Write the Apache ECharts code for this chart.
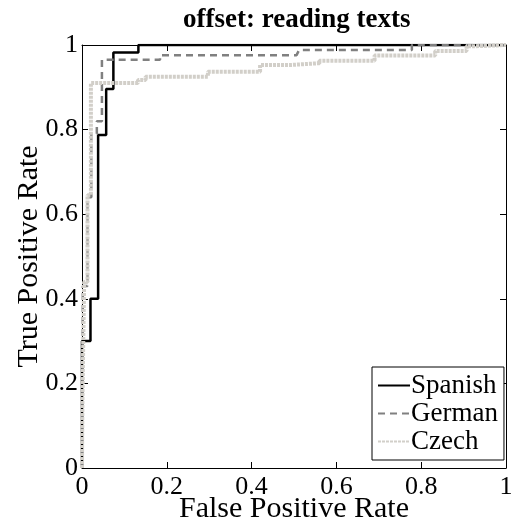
<!DOCTYPE html>
<html>
<head>
<meta charset="utf-8">
<script src="https://cdn.jsdelivr.net/npm/echarts@6/dist/echarts.min.js"></script>
<style>html,body{margin:0;padding:0;background:#fff}#c{width:513px;height:524px}</style>
</head>
<body>
<div id="c"></div>
<script>
var titleText = 'offset: reading texts';
var xName = 'False Positive Rate';
var yName = 'True Positive Rate';
var seriesNames = ['Spanish', 'German', 'Czech'];
var spanish = [[0,0],[0,0.30],[0.02,0.30],[0.02,0.40],[0.038,0.40],[0.038,0.787],[0.057,0.787],[0.057,0.896],[0.074,0.896],[0.074,0.982],[0.133,0.982],[0.133,1],[1,1]];
var german = [[0,0],[0.002,0.43],[0.013,0.43],[0.013,0.64],[0.022,0.64],[0.022,0.79],[0.035,0.79],[0.035,0.82],[0.047,0.82],[0.047,0.965],[0.184,0.965],[0.184,0.976],[0.506,0.976],[0.512,0.988],[0.778,0.988],[0.778,1],[1,1]];
var czech = [[0,0],[0.001,0.157],[0.005,0.157],[0.005,0.44],[0.013,0.44],[0.013,0.645],[0.021,0.645],[0.021,0.91],[0.132,0.91],[0.132,0.917],[0.15,0.917],[0.15,0.925],[0.297,0.925],[0.297,0.937],[0.42,0.937],[0.42,0.953],[0.495,0.953],[0.495,0.957],[0.56,0.957],[0.56,0.963],[0.69,0.963],[0.69,0.975],[0.833,0.975],[0.833,0.986],[0.907,0.986],[0.907,0.997],[0.927,0.997],[0.927,1],[1,1]];
var xTicks = [0, 0.2, 0.4, 0.6, 0.8, 1];

var FONT = 'Liberation Serif';
function fmt(v){ return String(Math.round(v*10)/10); }
var chart = echarts.init(document.getElementById('c'), null, {renderer:'canvas'});
var axisCommon = {
  type: 'value', min: 0, max: 1, interval: 0.2,
  axisLine: {show: true, onZero: false, lineStyle: {color: '#000', width: 1}},
  axisTick: {show: true, inside: true, length: 6, lineStyle: {color: '#000'}},
  splitLine: {show: false}
};
chart.setOption({
  animation: false,
  backgroundColor: '#fff',
  title: {
    text: titleText, left: 178, top: 2,
    textStyle: {fontFamily: FONT, fontWeight: 'bold', fontSize: 27, color: '#000'}
  },
  grid: {left: 82, top: 45, right: 7, bottom: 56, containLabel: false, outerBoundsMode: 'none'},
  legend: {
    data: seriesNames, orient: 'vertical', left: 372, top: 367,
    width: 132, padding: [5, 6, 5, 5], itemGap: 1,
    itemWidth: 32, itemHeight: 14,
    itemStyle: {opacity: 0},
    borderColor: '#000', borderWidth: 1, backgroundColor: '#fff',
    textStyle: {fontFamily: FONT, fontSize: 27, color: '#000', padding: [0,0,0,-4]}
  },
  xAxis: [
    Object.assign({}, axisCommon, {
      position: 'bottom', name: xName, nameLocation: 'middle', nameGap: 26, nameMoveOverlap: false,
      nameTextStyle: {fontFamily: FONT, fontSize: 30, color: '#000'},
      axisLabel: {fontFamily: FONT, fontSize: 26, color: '#000', margin: 6, formatter: fmt}
    }),
    Object.assign({}, axisCommon, {position: 'top', axisLabel: {show: false}})
  ],
  yAxis: [
    Object.assign({}, axisCommon, {
      position: 'left', name: yName, nameLocation: 'middle', nameGap: 38, nameMoveOverlap: false,
      nameTextStyle: {fontFamily: FONT, fontSize: 30, color: '#000'},
      axisLabel: {fontFamily: FONT, fontSize: 26, color: '#000', margin: 4, formatter: fmt}
    }),
    Object.assign({}, axisCommon, {position: 'right', axisLabel: {show: false}})
  ],
  series: [
    {name: seriesNames[0], type: 'line', data: spanish, symbol: 'none', color: '#000',
     lineStyle: {color: '#000', width: 2.5}, z: 3},
    {name: seriesNames[1], type: 'line', data: german, symbol: 'none', color: '#808080',
     lineStyle: {color: '#808080', width: 2.5, type: [7, 5]}, z: 4},
    {name: seriesNames[2], type: 'line', data: czech, symbol: 'none', color: '#d2cfc9',
     lineStyle: {color: '#d2cfc9', width: 4, type: [3, 1]}, z: 5}
  ]
});
</script>
</body>
</html>
